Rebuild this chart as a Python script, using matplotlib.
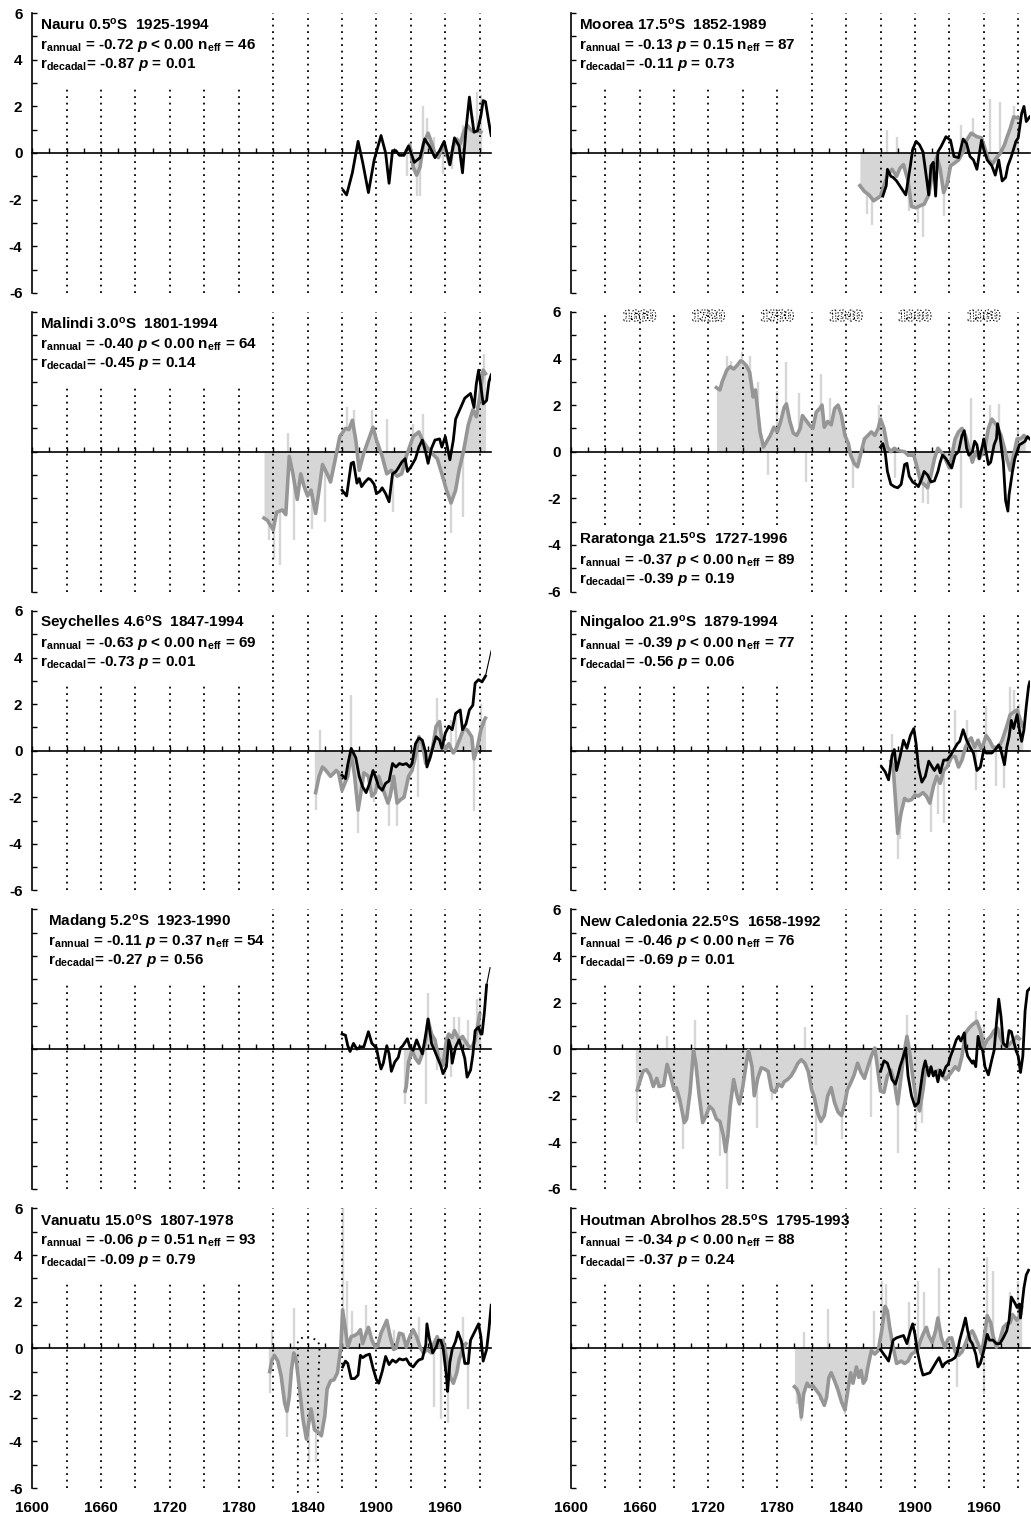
import matplotlib
matplotlib.use("Agg")
import matplotlib.pyplot as plt
from matplotlib import patheffects as pe

plt.rcParams['font.family'] = ['Liberation Sans', 'DejaVu Sans']
plt.rcParams['font.weight'] = 'bold'
plt.rcParams['mathtext.fontset'] = 'custom'
plt.rcParams['mathtext.rm'] = 'Liberation Sans:bold'
plt.rcParams['mathtext.it'] = 'Liberation Sans:bold:italic'
plt.rcParams['mathtext.bf'] = 'Liberation Sans:bold'
plt.rcParams['axes.unicode_minus'] = False

# ---------------- data ----------------
# Nauru
nauru_gray_yr = [1926, 1929, 1932, 1935, 1938, 1941, 1945, 1948, 1951, 1954, 1958, 1961, 1964, 1967, 1970,
                 1973, 1976, 1979, 1982, 1985, 1988, 1991]
nauru_gray = [0.1, 0.35, -0.6, -0.95, -0.6, 0.4, 0.85, 0.45, -0.05, -0.2, 0.35, 0.0, -0.5, 0.3, 0.6,
              0.4, 0.9, 1.2, 1.0, 0.9, 0.95, 0.9]
nauru_black_yr = [1871, 1874, 1879, 1884, 1888, 1893, 1898, 1904, 1908, 1911, 1914, 1917, 1920, 1924, 1928,
                  1933, 1938, 1942, 1946, 1951, 1955, 1959, 1964, 1968, 1972, 1975, 1978, 1981, 1983, 1985,
                  1988, 1991, 1993, 1995, 1998, 2000]
nauru_black = [-1.6, -1.8, -0.85, 0.5, -0.4, -1.7, -0.3, 0.75, 0.0, -1.3, 0.1, 0.1, -0.1, -0.1, 0.3,
               -0.4, -0.2, 0.6, 0.3, -0.2, 0.1, 0.5, -0.5, 0.65, 0.3, -0.85, 1.0, 2.4, 1.6, 0.9,
               0.95, 1.6, 2.25, 2.2, 1.3, 0.75]
nauru_spike_yr = [1927, 1935, 1938, 1941, 1944, 1950, 1958, 1966, 1975, 1984, 1988, 1991]
nauru_spike = [-1.0, -1.85, -1.85, 2.0, 1.5, 0.7, -0.9, -0.7, 1.2, 1.6, 2.6, 2.5]

# Moorea
moorea_gray_yr = [1852, 1856, 1860, 1864, 1870, 1876, 1880, 1884, 1887, 1890,
                  1894, 1897, 1901, 1905, 1908, 1912, 1915, 1919, 1922, 1925,
                  1928, 1931, 1934, 1938, 1942, 1945, 1949, 1954, 1958, 1961,
                  1964, 1968, 1971, 1974, 1978, 1980, 1983, 1986, 1990]
moorea_gray = [-1.4, -1.65, -1.8, -2.05, -1.85, -0.95, -0.7, -1.0, -0.65, -0.5,
               -1.2, -2.3, -2.35, -2.25, -2.2, -1.8, -0.95, -0.15, -0.7, -1.7,
               -1.35, -0.55, -0.45, -0.3, 0.05, 0.55, 0.85, 0.7, 0.65, 0.2,
               -0.3, -0.45, -0.2, -0.05, 0.35, 0.65, 1.05, 1.55, 1.5]
moorea_black_yr = [1872, 1875, 1876, 1879, 1881, 1884, 1888, 1892, 1896, 1898,
                   1901, 1904, 1907, 1910, 1912, 1914, 1916, 1918, 1920, 1923,
                   1927, 1931, 1934, 1938, 1942, 1945, 1948, 1951, 1954, 1958,
                   1960, 1963, 1967, 1970, 1973, 1976, 1979, 1981, 1984, 1988,
                   1990, 1993, 1995, 1997, 2000]
moorea_black = [-1.85, -1.4, -0.7, -1.0, -1.05, -1.2, -1.5, -1.8, -0.55, 0.15,
                0.5, 0.35, 0.05, -1.05, -1.8, -0.55, -0.4, -1.85, 0.05, 0.3,
                0.7, 0.55, -0.15, -0.2, 0.6, 0.4, -0.15, -0.3, -0.7, 0.55,
                0.15, -0.3, -0.55, -0.95, -0.3, -1.2, -1.05, -0.55, -0.15, 0.5,
                0.65, 1.7, 2.0, 1.35, 1.55]
moorea_spike_yr = [1858, 1863, 1876, 1884, 1895, 1903, 1907, 1925, 1940, 1951, 1965, 1974, 1986]
moorea_spike = [-2.6, -3.1, 1.0, 0.7, -2.5, -3.0, -3.6, -2.7, 1.2, 1.5, 2.3, 2.2, 2.0]

# Malindi
malindi_gray_yr = [1802, 1805, 1810, 1813, 1818, 1821, 1824, 1827, 1831, 1834,
                   1837, 1840, 1843, 1847, 1850, 1853, 1857, 1860, 1864, 1868,
                   1873, 1876, 1879, 1882, 1885, 1889, 1893, 1897, 1900, 1905,
                   1909, 1913, 1918, 1922, 1926, 1932, 1937, 1940, 1944, 1948,
                   1953, 1957, 1961, 1965, 1969, 1972, 1976, 1980, 1984, 1987,
                   1990, 1993, 1995]
malindi_gray = [-2.85, -2.95, -3.35, -2.6, -2.5, -2.7, -0.2, -0.9, -2.05, -0.95,
                -1.5, -1.9, -1.65, -2.65, -1.65, -0.55, -0.95, -1.3, -0.35, 0.65,
                1.0, 0.95, 1.35, 0.5, -0.8, -0.05, 0.5, 1.05, 0.5, -0.2,
                -0.95, -0.8, -1.05, -0.95, -0.2, 0.65, 0.85, 0.5, 0.2, -0.05,
                -0.3, -0.95, -1.65, -2.2, -1.65, -0.8, 0.05, 1.15, 1.8, 1.5,
                2.35, 3.5, 3.35]
malindi_black_yr = [1870, 1874, 1878, 1880, 1883, 1885, 1887, 1890, 1893, 1895,
                    1898, 1900, 1903, 1905, 1908, 1911, 1914, 1917, 1919, 1922,
                    1925, 1927, 1930, 1934, 1937, 1940, 1943, 1945, 1948, 1951,
                    1955, 1957, 1960, 1964, 1967, 1969, 1973, 1977, 1982, 1985,
                    1987, 1989, 1991, 1993, 1996, 1998, 2000]
malindi_black = [-1.65, -1.9, -0.5, -0.45, -1.35, -1.15, -1.5, -1.3, -1.15, -1.2,
                 -1.4, -1.8, -1.7, -1.55, -1.8, -2.15, -0.95, -0.85, -0.7, -0.45,
                 -0.3, -0.85, -0.65, -0.3, 0.2, 0.5, -0.05, -0.5, 0.15, 0.5,
                 0.55, 0.2, 0.65, -0.35, 0.5, 1.4, 1.85, 2.3, 2.5, 1.9,
                 2.9, 3.5, 2.8, 2.05, 2.2, 3.0, 3.3]
malindi_spike_yr = [1806, 1811, 1816, 1823, 1828, 1844, 1855, 1874, 1880, 1896, 1909, 1914, 1932, 1941,
                    1965, 1975, 1990, 1994]
malindi_spike = [-3.8, -4.6, -4.85, 0.8, -3.8, -3.3, -3.0, 1.9, 1.8, 1.8, 1.4, -2.6, 1.2, 1.6,
                 -3.5, -2.8, 3.0, 4.2]

# Raratonga
rar_gray_yr = [1727, 1730, 1732, 1736, 1739, 1742, 1745, 1748, 1750, 1753,
               1756, 1759, 1761, 1765, 1768, 1771, 1774, 1777, 1780, 1783,
               1786, 1788, 1791, 1794, 1797, 1800, 1802, 1808, 1811, 1814,
               1817, 1819, 1821, 1824, 1827, 1830, 1833, 1836, 1839, 1842,
               1844, 1847, 1850, 1853, 1856, 1859, 1862, 1865, 1868, 1870,
               1873, 1876, 1879, 1882, 1885, 1891, 1894, 1899, 1902, 1905,
               1908, 1911, 1914, 1917, 1920, 1925, 1930, 1935, 1938, 1941,
               1944, 1947, 1950, 1953, 1956, 1961, 1964, 1967, 1971, 1975,
               1978, 1980, 1983, 1986, 1989, 1992, 1995, 1996]
rar_gray = [2.75, 2.65, 3.0, 3.5, 3.65, 3.55, 3.7, 3.9, 3.85, 3.7,
            3.4, 2.35, 2.65, 0.85, 0.2, 0.45, 0.7, 1.05, 0.85, 1.3,
            1.9, 2.05, 1.3, 0.8, 0.7, 1.0, 1.55, 1.15, 1.0, 1.7,
            1.85, 2.0, 1.05, 1.3, 1.15, 1.85, 2.0, 1.55, 0.7, 0.35,
            -0.15, -0.5, -0.65, -0.05, 0.55, 0.7, 0.85, 0.7, 1.0, 1.4,
            1.0, 0.2, 0.0, 0.15, 0.05, 0.0, -0.15, -0.15, -0.7, -1.3,
            -1.4, -1.55, -1.0, -0.3, 0.15, -0.15, -0.7, 0.55, 0.85, 1.0,
            0.7, 0.15, -0.45, 0.0, -0.3, 0.15, 1.0, 1.4, 1.15, 0.7,
            0.15, -0.3, -0.8, -0.15, 0.55, 0.55, 0.7, 0.6]
rar_black_yr = [1870, 1872, 1874, 1876, 1879, 1882, 1885, 1888, 1891, 1893,
                1895, 1898, 1901, 1903, 1906, 1908, 1911, 1914, 1917, 1920,
                1922, 1924, 1927, 1930, 1932, 1935, 1938, 1941, 1943, 1945,
                1947, 1950, 1952, 1954, 1956, 1959, 1960, 1962, 1964, 1966,
                1969, 1971, 1972, 1974, 1977, 1979, 1981, 1982, 1985, 1987,
                1989, 1991, 1993, 1996, 1998, 2000]
rar_black = [0.2, 0.35, 0.0, -0.85, -1.4, -1.5, -1.55, -1.4, -0.55, -0.5,
             -1.05, -1.3, -1.4, -1.5, -1.15, -0.85, -1.0, -1.3, -1.25, -0.85,
             -0.45, -0.15, -0.3, -0.55, -0.7, -0.15, 0.0, 0.7, 0.9, 0.15,
             -0.15, 0.0, 0.45, 0.3, -0.3, 0.3, 0.55, 0.0, -0.55, -0.45,
             0.3, 0.55, 1.2, 0.7, -0.45, -2.1, -2.55, -1.85, -0.85, -0.3,
             0.0, 0.3, 0.35, 0.45, 0.65, 0.55]
rar_spike_yr = [1736, 1740, 1749, 1756, 1763, 1772, 1780, 1788, 1799, 1805, 1818, 1826, 1846, 1869,
                1883, 1907, 1911, 1940, 1949, 1965, 1973, 1990]
rar_spike = [4.1, 3.9, 4.3, 4.1, 3.0, -1.0, 2.6, 3.85, 2.5, -1.3, 3.35, 2.3, -1.55, 2.0,
             -1.15, -2.2, -2.25, -2.4, 2.3, 2.0, 2.05, 1.0]
rar_ghost_years = [1660, 1720, 1780, 1840, 1900, 1960]

# Seychelles
sey_gray_yr = [1847, 1850, 1853, 1856, 1860, 1865, 1867, 1870, 1875, 1878,
               1881, 1884, 1886, 1889, 1893, 1896, 1899, 1902, 1905, 1910,
               1912, 1915, 1918, 1921, 1924, 1928, 1931, 1934, 1937, 1940,
               1943, 1946, 1949, 1952, 1955, 1957, 1960, 1963, 1967, 1969,
               1973, 1976, 1979, 1983, 1985, 1988, 1991, 1994, 1995]
sey_gray = [-1.8, -1.1, -0.7, -0.85, -1.1, -0.85, -0.95, -1.7, -1.1, -0.1,
            -1.1, -2.55, -1.95, -0.95, -1.1, -1.95, -1.8, -1.1, -1.55, -2.25,
            -1.95, -1.1, -2.25, -2.1, -2.0, -1.1, -0.85, -0.25, 0.6, 0.3,
            -0.55, -0.4, 0.15, 1.05, 1.25, 0.45, 0.05, 0.3, -0.1, 0.05,
            0.55, 0.95, 0.9, 0.6, -0.35, 0.15, 0.9, 1.3, 1.4]
sey_black_yr = [1870, 1873, 1875, 1878, 1880, 1882, 1885, 1888, 1891, 1894,
                1897, 1899, 1902, 1905, 1908, 1911, 1914, 1917, 1920, 1923,
                1926, 1929, 1931, 1934, 1937, 1940, 1943, 1944, 1947, 1950,
                1952, 1955, 1957, 1960, 1963, 1966, 1969, 1973, 1975, 1978,
                1981, 1984, 1986, 1989, 1992, 1995, 2000]
sey_black = [-1.05, -1.2, -0.6, 0.1, -0.1, -0.3, -1.1, -1.55, -1.8, -1.4,
             -0.85, -1.1, -1.55, -1.7, -1.4, -1.3, -0.55, -0.7, -0.55, -0.6,
             -0.55, -0.7, -0.55, 0.3, 0.55, 0.45, -0.1, -0.7, -0.25, 0.3,
             0.6, 0.45, 0.1, 0.75, 1.05, 0.9, 1.6, 1.75, 0.9, 1.15,
             1.75, 1.95, 2.9, 3.05, 2.95, 3.2, 4.3]
sey_spike_yr = [1847, 1851, 1878, 1884, 1898, 1911, 1918, 1936, 1953, 1965, 1969, 1985, 1991]
sey_spike = [-2.55, 0.9, 2.4, -3.55, -2.2, -3.25, -3.25, -2.0, 2.25, 1.3, 1.4, -2.6, 2.0]

# Ningaloo
nin_gray_yr = [1879, 1881, 1883, 1885, 1888, 1891, 1894, 1897, 1900, 1903,
               1907, 1910, 1913, 1916, 1919, 1922, 1925, 1928, 1932, 1935,
               1938, 1941, 1944, 1947, 1949, 1952, 1955, 1958, 1962, 1965,
               1968, 1973, 1976, 1980, 1983, 1986, 1989, 1992, 1994]
nin_gray = [-0.45, -0.7, -2.1, -3.55, -2.65, -2.05, -2.15, -2.1, -1.9, -1.95,
            -1.8, -1.95, -2.25, -1.55, -1.1, -1.4, -0.85, -0.7, -0.25, -0.25,
            -0.7, -0.4, 0.15, 0.45, 0.55, 0.15, 0.45, 0.05, 0.65, 0.45,
            0.15, 0.15, 0.45, 1.05, 1.55, 1.65, 1.75, 1.3, 1.05]
nin_black_yr = [1871, 1874, 1877, 1880, 1882, 1884, 1887, 1890, 1893, 1896,
                1899, 1901, 1903, 1906, 1909, 1912, 1915, 1917, 1920, 1922,
                1925, 1928, 1931, 1934, 1937, 1939, 1942, 1945, 1948, 1951,
                1954, 1957, 1960, 1962, 1967, 1970, 1973, 1975, 1978, 1980,
                1982, 1984, 1986, 1989, 1991, 1993, 1995, 1997, 1999, 2000]
nin_black = [-0.7, -0.9, -1.25, -0.2, 0.05, -0.85, -0.25, 0.45, 0.1, 0.65,
             0.95, 0.3, -0.7, -1.35, -1.1, -0.45, -0.7, -0.85, -0.6, -0.95,
             -0.4, -0.4, -0.2, 0.05, 0.3, 0.4, 0.9, 0.45, 0.15, -0.1,
             -0.85, -0.7, 0.05, -0.1, -0.1, 0.05, 0.25, 0.0, -0.6, 0.15,
             0.6, 1.3, 0.95, 1.55, 0.9, 0.4, 0.9, 1.9, 2.75, 2.95]
nin_spike_yr = [1880, 1885, 1887, 1914, 1920, 1925, 1935, 1945, 1953, 1962, 1971, 1978, 1983, 1986, 1991]
nin_spike = [0.7, -4.65, -3.8, -3.5, -2.7, -3.1, 1.75, 1.3, -1.7, 1.9, -1.5, -1.6, 2.75, 2.6, 2.0]

# Madang
mad_gray_yr = [1925, 1926, 1928, 1931, 1934, 1937, 1940, 1943, 1945, 1948,
               1951, 1954, 1958, 1961, 1963, 1966, 1968, 1972, 1975, 1978,
               1980, 1983, 1986, 1988, 1990]
mad_gray = [-1.8, -1.6, -0.55, -0.05, -0.4, -0.6, -0.2, 0.4, 1.25, 0.65,
            0.4, -0.35, -0.7, 0.4, 0.65, 0.5, 0.8, 0.4, 0.55, 0.3,
            0.15, 0.05, 0.4, 0.95, 1.5]
mad_black_yr = [1870, 1873, 1875, 1877, 1880, 1883, 1886, 1889, 1893, 1896,
                1900, 1902, 1904, 1906, 1909, 1911, 1913, 1916, 1919, 1921,
                1923, 1927, 1929, 1932, 1935, 1937, 1940, 1943, 1945, 1948,
                1951, 1956, 1958, 1961, 1963, 1965, 1966, 1969, 1972, 1975,
                1977, 1979, 1982, 1984, 1986, 1989, 1991, 1992, 1994, 1996,
                1999]
mad_black = [0.65, 0.6, 0.15, -0.1, 0.25, 0.0, 0.1, 0.1, 0.75, 0.25,
             0.05, -0.45, -0.85, -0.6, 0.15, -0.2, -0.95, -0.55, -0.35, 0.05,
             0.15, 0.45, 0.1, -0.05, 0.4, 0.15, -0.2, 0.65, 1.3, 0.25,
             -0.1, -0.7, -1.05, -0.75, 0.4, 0.05, -0.6, 0.1, 0.4, -0.05,
             -0.4, -1.2, -0.9, -0.25, 0.8, 0.95, 0.65, 0.65, 1.55, 2.75,
             3.5]
mad_spike_yr = [1925, 1943, 1945, 1953, 1960, 1965, 1968, 1972, 1980, 1988, 1990]
mad_spike = [-2.35, -2.35, 2.4, -0.9, -1.2, -1.2, 1.4, 1.4, 1.25, 2.15, 2.25]

# New Caledonia
nc_gray_yr = [1658, 1663, 1666, 1669, 1672, 1675, 1677, 1681, 1684, 1687,
              1690, 1692, 1695, 1699, 1701, 1704, 1707, 1709, 1712, 1715,
              1718, 1721, 1724, 1727, 1730, 1733, 1735, 1737, 1739, 1742,
              1745, 1747, 1750, 1753, 1755, 1758, 1760, 1763, 1766, 1769,
              1772, 1775, 1778, 1781, 1784, 1786, 1789, 1792, 1795, 1798,
              1801, 1804, 1807, 1810, 1812, 1815, 1818, 1821, 1824, 1827,
              1830, 1833, 1836, 1839, 1841, 1844, 1847, 1850, 1853, 1856,
              1859, 1862, 1865, 1867, 1870, 1873, 1876, 1879, 1882, 1885,
              1888, 1890, 1893, 1895, 1898, 1901, 1904, 1907, 1909, 1912,
              1915, 1918, 1921, 1924, 1927, 1930, 1933, 1935, 1938, 1941,
              1944, 1947, 1950, 1954, 1957, 1960, 1963, 1966, 1969, 1972,
              1974, 1977, 1980, 1983, 1986, 1989, 1991]
nc_gray = [-1.75, -0.95, -0.88, -1.1, -1.6, -1.25, -1.6, -1.55, -0.65, -1.15,
           -1.75, -1.65, -2.15, -3.15, -3.0, -1.85, -0.05, -0.6, -2.0, -3.15,
           -2.85, -2.45, -2.6, -3.0, -3.1, -3.7, -4.4, -3.7, -2.45, -1.3,
           -2.0, -2.35, -1.6, -0.6, -0.05, -0.75, -2.0, -1.25, -0.8, -0.85,
           -0.95, -1.75, -1.85, -1.5, -1.6, -1.4, -1.3, -1.15, -0.9, -0.6,
           -0.45, -0.6, -0.95, -1.75, -2.0, -2.7, -3.1, -2.85, -2.0, -1.65,
           -2.3, -2.7, -2.85, -2.3, -1.75, -1.45, -1.1, -0.6, -1.0, -1.25,
           -0.75, -0.3, 0.05, -0.65, -1.8, -1.85, -1.15, -0.9, -1.4, -2.35,
           -1.15, -0.3, 0.55, 0.0, -1.15, -2.15, -2.65, -1.75, -0.95, -0.8,
           -1.0, -0.95, -0.9, -1.15, -1.3, -1.1, -0.9, -0.75, -0.9, -0.3,
           0.7, 0.9, 1.05, 1.2, 0.8, 0.1, 0.4, 0.55, 0.8, 0.9,
           0.55, 0.2, 0.1, 0.25, 0.4, 0.55, 0.45]
nc_black_yr = [1870, 1873, 1876, 1878, 1880, 1883, 1885, 1887, 1890, 1892,
               1894, 1897, 1900, 1903, 1905, 1907, 1909, 1912, 1914, 1916,
               1918, 1920, 1922, 1924, 1927, 1929, 1931, 1933, 1936, 1938,
               1940, 1943, 1944, 1946, 1948, 1950, 1951, 1953, 1955, 1957,
               1959, 1961, 1964, 1967, 1969, 1971, 1973, 1975, 1977, 1980,
               1982, 1984, 1986, 1988, 1990, 1992, 1994, 1996, 1998, 2000]
nc_black = [-0.95, -0.5, -0.6, -0.9, -1.3, -1.5, -1.15, -0.75, -0.3, 0.05,
            -1.15, -2.0, -2.45, -2.3, -1.6, -0.9, -0.5, -1.15, -0.75, -1.15,
            -0.95, -1.4, -0.9, -1.15, -0.75, -0.65, -0.3, -0.05, 0.4, 0.55,
            0.35, 0.7, 0.1, -0.3, -0.45, -0.6, -0.5, -0.75, 0.55, 0.1,
            -0.05, -0.75, -1.1, -0.45, -0.05, 1.1, 2.15, 1.4, 0.25, 0.1,
            0.8, 0.75, 0.35, -0.05, -0.3, -1.0, -0.3, 1.65, 2.5, 2.6]
nc_spike_yr = [1658, 1684, 1692, 1698, 1708, 1730, 1736, 1762, 1775, 1804, 1814, 1836, 1862, 1885,
               1893, 1901, 1906, 1953, 1960, 1975]
nc_spike = [-3.15, 0.55, -2.3, -4.3, 1.25, -4.6, -6.05, -3.4, -2.2, 0.95, -4.1, -3.85, -2.9, -4.45,
            1.45, -3.55, -3.15, 1.65, 1.1, 0.9]

# Vanuatu
van_gray_yr = [1807, 1809, 1811, 1814, 1817, 1820, 1822, 1824, 1826, 1828,
               1830, 1833, 1836, 1839, 1841, 1843, 1846, 1849, 1852, 1855,
               1857, 1860, 1863, 1866, 1869, 1870.5, 1873, 1875, 1878, 1881,
               1884, 1886, 1888, 1891, 1893, 1896, 1899, 1901, 1904, 1909,
               1912, 1915, 1917, 1920, 1923, 1926, 1929, 1932, 1935, 1938,
               1941, 1944, 1948, 1950, 1953, 1955, 1958, 1962, 1964, 1967,
               1970, 1972, 1975, 1978]
van_gray = [-1.0, -0.5, -0.3, -0.55, -1.2, -2.35, -2.7, -2.1, -0.9, -0.2,
            -0.5, -1.75, -3.05, -3.9, -3.2, -2.6, -3.5, -3.6, -3.75, -2.9,
            -1.75, -1.4, -1.35, -1.05, 0.05, 1.65, 0.8, 0.05, 0.5, 0.55,
            0.65, 0.8, 0.2, 0.65, 0.9, 0.35, 0.05, 0.1, 0.65, 1.2,
            0.5, -0.05, 0.0, 0.65, 0.6, 0.05, 0.5, 0.8, 0.5, 0.05,
            -0.2, -0.05, -0.2, 0.2, 0.5, 0.05, 0.35, -0.65, -1.2, -1.5,
            -1.05, -0.5, -0.05, 0.2]
van_black_yr = [1870.5, 1873, 1875, 1878, 1881, 1884, 1886, 1888, 1891, 1894,
                1897, 1900, 1902, 1905, 1908, 1911, 1914, 1917, 1920, 1923,
                1926, 1929, 1932, 1935, 1937, 1940, 1943, 1944, 1946, 1949,
                1952, 1954, 1956, 1958, 1961, 1962, 1964, 1966, 1969, 1971,
                1974, 1977, 1980, 1982, 1985, 1989, 1991, 1993, 1996, 1998, 2000]
van_black = [-0.8, -0.55, -0.65, -1.3, -1.3, -1.15, -0.3, -0.4, -0.3, -0.25,
             -0.85, -1.35, -1.5, -1.0, -0.35, -0.7, -0.5, -0.6, -0.45, -0.5,
             -0.45, -0.7, -0.8, -0.6, -0.5, -0.45, 0.15, 1.05, 0.45, -0.2,
             0.05, 0.35, 0.35, 0.05, -1.2, -1.85, -0.6, -0.05, 0.3, 0.7,
             0.3, -0.65, -0.65, 0.35, 0.65, 1.05, 0.5, -0.55, -0.05, 0.8, 1.85]
van_spike_yr = [1807, 1809, 1822, 1828, 1841, 1847, 1870.5, 1874, 1879, 1891, 1915, 1937, 1950, 1956,
                1962, 1975, 1980]
van_spike = [-1.9, 0.8, -3.8, 1.75, -4.9, -4.9, 6.1, 2.9, 1.6, 1.85, 0.8, 1.35, -2.5, -3.05,
             -3.2, 1.35, -2.6]
van_outline_yr = [1831.5, 1831.5, 1834, 1839, 1843.5, 1848, 1850.5, 1849, 1849]
van_outline = [-6.2, 0.3, 0.43, 0.5, 0.43, 0.36, 0.14, -1.9, -6.2]

# Houtman Abrolhos
hout_gray_yr = [1795, 1797, 1799, 1801, 1803, 1806, 1808, 1811, 1814, 1817,
                1821, 1823, 1825, 1827, 1830, 1833, 1836, 1839, 1842, 1844,
                1846, 1849, 1851, 1853, 1855, 1857, 1859, 1862, 1865, 1868,
                1871, 1874, 1876, 1878, 1881, 1884, 1888, 1891, 1894, 1897,
                1902, 1905, 1907, 1910, 1912, 1915, 1918, 1920, 1923, 1926,
                1929, 1932, 1935, 1938, 1941, 1944, 1947, 1950, 1952, 1955,
                1958, 1960, 1963, 1966, 1968, 1971, 1974, 1977, 1980, 1983,
                1985, 1989, 1992, 1993]
hout_gray = [-1.65, -1.75, -2.0, -2.95, -1.95, -1.5, -1.65, -1.6, -1.8, -2.0,
             -2.45, -2.1, -1.25, -1.05, -1.4, -1.8, -2.3, -2.65, -1.65, -1.05,
             -1.5, -0.8, -1.25, -0.95, -1.5, -1.35, -0.8, -0.1, -0.25, -0.1,
             0.75, 1.8, 1.6, 0.9, 0.05, -0.65, -0.55, -0.65, -0.55, -0.25,
             -0.1, 0.35, 0.6, 0.9, 0.55, 0.25, 0.75, 1.3, 0.45, 0.05,
             0.4, 0.45, -0.15, -0.3, -0.15, 0.2, 0.6, 0.75, 0.55, 0.2,
             -0.25, 0.35, 1.4, 1.1, 0.55, 0.05, 0.35, 0.9, 1.05, 1.1,
             1.45, 1.2, 1.45, 1.75]
hout_black_yr = [1870, 1872, 1875, 1877, 1879, 1881, 1884, 1887, 1890, 1893,
                 1896, 1898, 1900, 1902, 1905, 1907, 1910, 1913, 1916, 1919,
                 1921, 1924, 1926, 1929, 1932, 1935, 1937, 1939, 1942, 1944,
                 1946, 1948, 1950, 1953, 1955, 1957, 1960, 1963, 1965, 1968,
                 1971, 1974, 1977, 1980, 1982, 1984, 1987, 1989, 1991, 1992,
                 1995, 1997, 1999]
hout_black = [-0.05, -0.2, -0.4, -0.55, -0.1, 0.35, 0.45, 0.5, 0.55, 0.2,
              0.75, 1.05, 0.6, -0.1, -0.8, -1.15, -1.1, -1.05, -0.8, -0.55,
              -0.4, -0.8, -0.65, -0.55, -0.5, -0.4, -0.15, 0.35, 0.9, 1.3,
              0.75, 0.35, 0.2, -0.25, -0.8, -0.65, -0.1, 0.6, 0.35, 0.35,
              0.2, 0.2, 0.45, 0.75, 1.2, 2.2, 1.95, 1.75, 1.9, 1.3,
              2.6, 3.15, 3.35]
hout_spike_yr = [1797, 1801, 1803, 1817, 1824, 1839, 1864, 1871, 1875, 1895, 1903, 1908, 1921, 1937,
                 1960, 1963, 1968, 1983, 1990]
hout_spike = [-2.4, -3.1, 0.7, -2.2, 1.7, -2.8, 1.6, 2.9, 2.75, 2.0, 2.9, 2.4, 3.45, -1.65,
              -1.95, 3.9, 3.3, 2.4, 2.9]

grid_years = list(range(1630, 1991, 30))
label_years = list(range(1600, 1961, 60))


def info(name, lat, span, ra, op, pa, neff, rd, pd):
    return [f"{name} {lat}$^\\mathrm{{o}}$S  {span}",
            f"r$_\\mathrm{{annual}}$ = {ra} $p$ {op} {pa} n$_\\mathrm{{eff}}$ = {neff}",
            f"r$_\\mathrm{{decadal}}$= {rd} $p$ = {pd}"]


panels = [
    dict(row=0, col=0, ylab=True, nshort=6, text=info("Nauru", "0.5", "1925-1994", "-0.72", "<", "0.00", 46, "-0.87", "0.01"),
         g=(nauru_gray_yr, nauru_gray), b=(nauru_black_yr, nauru_black), s=(nauru_spike_yr, nauru_spike)),
    dict(row=0, col=1, ylab=False, nshort=6, text=info("Moorea", "17.5", "1852-1989", "-0.13", "=", "0.15", 87, "-0.11", "0.73"),
         g=(moorea_gray_yr, moorea_gray), b=(moorea_black_yr, moorea_black), s=(moorea_spike_yr, moorea_spike)),
    dict(row=1, col=0, ylab=False, nshort=6, text=info("Malindi", "3.0", "1801-1994", "-0.40", "<", "0.00", 64, "-0.45", "0.14"),
         g=(malindi_gray_yr, malindi_gray), b=(malindi_black_yr, malindi_black), s=(malindi_spike_yr, malindi_spike)),
    dict(row=1, col=1, ylab=True, nshort=6, bottom_text=True,
         text=info("Raratonga", "21.5", "1727-1996", "-0.37", "<", "0.00", 89, "-0.39", "0.19"),
         g=(rar_gray_yr, rar_gray), b=(rar_black_yr, rar_black), s=(rar_spike_yr, rar_spike)),
    dict(row=2, col=0, ylab=True, nshort=6, tail=True,
         text=info("Seychelles", "4.6", "1847-1994", "-0.63", "<", "0.00", 69, "-0.73", "0.01"),
         g=(sey_gray_yr, sey_gray), b=(sey_black_yr, sey_black), s=(sey_spike_yr, sey_spike)),
    dict(row=2, col=1, ylab=False, nshort=6, text=info("Ningaloo", "21.9", "1879-1994", "-0.39", "<", "0.00", 77, "-0.56", "0.06"),
         g=(nin_gray_yr, nin_gray), b=(nin_black_yr, nin_black), s=(nin_spike_yr, nin_spike)),
    dict(row=3, col=0, ylab=False, nshort=6, tail=True, tx=0.034,
         text=info("Madang", "5.2", "1923-1990", "-0.11", "=", "0.37", 54, "-0.27", "0.56"),
         g=(mad_gray_yr, mad_gray), b=(mad_black_yr, mad_black), s=(mad_spike_yr, mad_spike)),
    dict(row=3, col=1, ylab=True, nshort=7, text=info("New Caledonia", "22.5", "1658-1992", "-0.46", "<", "0.00", 76, "-0.69", "0.01"),
         g=(nc_gray_yr, nc_gray), b=(nc_black_yr, nc_black), s=(nc_spike_yr, nc_spike)),
    dict(row=4, col=0, ylab=True, nshort=6, text=info("Vanuatu", "15.0", "1807-1978", "-0.06", "=", "0.51", 93, "-0.09", "0.79"),
         g=(van_gray_yr, van_gray), b=(van_black_yr, van_black), s=(van_spike_yr, van_spike)),
    dict(row=4, col=1, ylab=False, nshort=7, text=info("Houtman Abrolhos", "28.5", "1795-1993", "-0.34", "<", "0.00", 88, "-0.37", "0.24"),
         g=(hout_gray_yr, hout_gray), b=(hout_black_yr, hout_black), s=(hout_spike_yr, hout_spike)),
]

LIGHT = '#d6d6d6'
MID = '#969696'
DOT = (0, (1.0, 2.6))

W, H = 1031.0, 1519.0
col_x = [32.2, 570.7]
zero_rows = [153.0, 451.7, 750.7, 1049.2, 1348.3]
AX_W, AX_H = 459.0, 279.6

fig = plt.figure(figsize=(10.31, 15.19), dpi=100)

for p in panels:
    r, c = p['row'], p['col']
    ax = fig.add_axes([col_x[c] / W, 1 - (zero_rows[r] + AX_H / 2) / H, AX_W / W, AX_H / H])
    ax.set_xlim(1600, 2000)
    ax.set_ylim(-6, 6)
    ax.patch.set_visible(False)
    for s in ['top', 'right']:
        ax.spines[s].set_visible(False)
    ax.spines['bottom'].set_position(('data', 0))
    ax.spines['bottom'].set_linewidth(1.2)
    ax.spines['left'].set_linewidth(1.2)
    ax.set_xticks(range(1600, 2000, 15))
    ax.tick_params(axis='x', direction='in', length=3.5, width=1, labelbottom=False)
    ax.set_yticks(range(-6, 7, 2))
    ax.set_yticks(range(-5, 6, 2), minor=True)
    ax.tick_params(axis='y', which='both', direction='in', length=3.5, width=1,
                   labelsize=11, pad=7, labelleft=p['ylab'])

    # dotted reference lines, shortened where the text sits
    bottom_text = p.get('bottom_text', False)
    for i, gy in enumerate(grid_years):
        if i < p['nshort']:
            lo, hi = (-3.15, 6) if bottom_text else (-6, 2.8)
        else:
            lo, hi = -6, 6
        ax.plot([gy, gy], [lo, hi], color='k', lw=1.3, ls=DOT, zorder=2)

    gy_, gv = p['g']
    by, bv = p['b']
    sy, sv = p['s']
    ax.fill_between(gy_, 0, gv, color=LIGHT, lw=0, zorder=1)
    ax.vlines(sy, 0, sv, color=LIGHT, lw=1.7, zorder=1)
    ax.plot(gy_, gv, color=MID, lw=2.6, zorder=3, solid_joinstyle='round')
    if p.get('tail'):
        ax.plot(by[:-1], bv[:-1], color='k', lw=2.0, zorder=4, solid_joinstyle='round')
        ax.plot(by[-2:], bv[-2:], color='k', lw=0.8, zorder=4)
    else:
        ax.plot(by, bv, color='k', lw=2.0, zorder=4, solid_joinstyle='round')

    tx = p.get('tx', 0.017)
    ys = [0.166, 0.098, 0.030] if bottom_text else [0.940, 0.872, 0.803]
    for line, yy in zip(p['text'], ys):
        ax.text(tx, yy, line, transform=ax.transAxes, fontsize=11, va='baseline', ha='left', zorder=6)

    if bottom_text:
        for yr in rar_ghost_years:
            ax.text(yr, 5.8, str(yr), ha='center', va='center', fontsize=10.5, color='white', zorder=6,
                    path_effects=[pe.Stroke(linewidth=1.5, foreground='black',
                                            dashes={'dash_offset': 0, 'dash_list': [0.9, 1.1]}),
                                  pe.Normal()])

    if r == 4 and c == 0:
        ax.plot(van_outline_yr, van_outline, color='k', lw=1.3, ls=DOT, zorder=2, clip_on=False)

    if r == 4:
        for yr in label_years:
            ax.text(yr, -0.072, str(yr), transform=ax.get_xaxis_transform(),
                    ha='center', va='center', fontsize=11)

fig.savefig('out.png', dpi=100)
